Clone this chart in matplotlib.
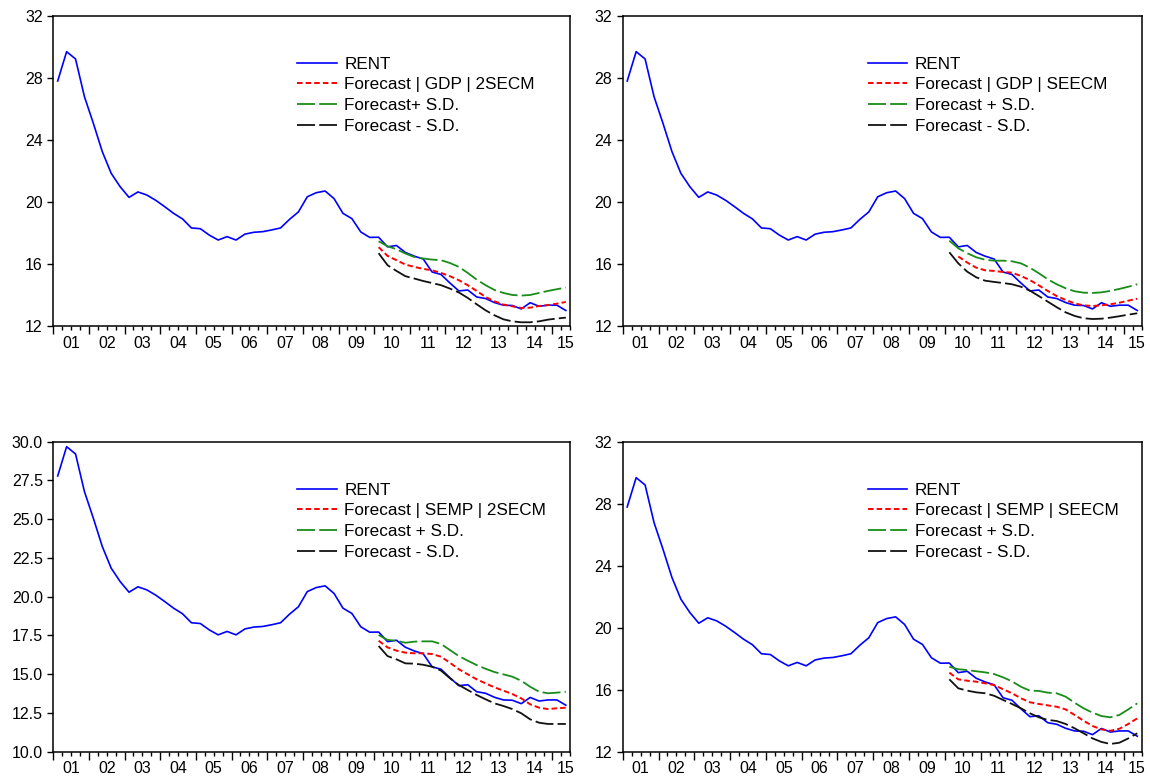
import numpy as np
import matplotlib
matplotlib.use("Agg")
import matplotlib.pyplot as plt

plt.rcParams['font.family'] = ['Liberation Sans', 'DejaVu Sans']
plt.rcParams['lines.scale_dashes'] = False

# quarterly data, 2001Q1 .. 2015Q2
start_year = 2001
rent = [27.79, 29.68, 29.21, 26.78, 25.06, 23.24, 21.84, 20.98,
        20.29, 20.64, 20.44, 20.10, 19.69, 19.26, 18.90, 18.32,
        18.27, 17.86, 17.54, 17.76, 17.54, 17.92, 18.04, 18.08,
        18.19, 18.32, 18.87, 19.35, 20.33, 20.59, 20.70, 20.21,
        19.26, 18.92, 18.06, 17.71, 17.72, 17.10, 17.19, 16.74,
        16.50, 16.32, 15.48, 15.32, 14.77, 14.26, 14.32, 13.87,
        13.77, 13.51, 13.34, 13.32, 13.10, 13.50, 13.27, 13.34,
        13.34, 13.00]

# forecasts from 2010Q1 .. 2015Q2
fc_start = 36

gdp_2secm = [17.08, 16.52, 16.24, 15.96, 15.81, 15.68, 15.59, 15.42, 15.21, 14.95, 14.63,
             14.26, 13.87, 13.59, 13.38, 13.27, 13.16, 13.18, 13.29, 13.35, 13.44, 13.55]
gdp_2secm_up = [17.46, 17.14, 16.95, 16.67, 16.45, 16.35, 16.28, 16.24, 16.06, 15.81, 15.42,
                14.99, 14.63, 14.32, 14.13, 14.00, 13.96, 14.00, 14.13, 14.26, 14.37, 14.48]
gdp_2secm_dn = [16.69, 15.92, 15.55, 15.21, 15.06, 14.90, 14.77, 14.63, 14.41, 14.16, 13.81,
                13.40, 13.01, 12.69, 12.43, 12.30, 12.24, 12.24, 12.30, 12.41, 12.48, 12.54]

gdp_seecm = [np.nan, 16.48, 16.09, 15.76, 15.59, 15.55, 15.48, 15.44, 15.22, 14.96, 14.62,
             14.26, 13.93, 13.68, 13.46, 13.33, 13.29, 13.33, 13.40, 13.50, 13.63, 13.76]
gdp_seecm_up = [17.50, 17.01, 16.69, 16.43, 16.27, 16.21, 16.21, 16.17, 16.04, 15.76, 15.40,
                15.01, 14.69, 14.43, 14.24, 14.15, 14.13, 14.17, 14.26, 14.39, 14.53, 14.69]
gdp_seecm_dn = [16.75, 16.04, 15.50, 15.14, 14.92, 14.84, 14.77, 14.69, 14.53, 14.28, 13.93,
                13.57, 13.21, 12.88, 12.65, 12.50, 12.45, 12.47, 12.54, 12.63, 12.73, 12.82]

semp_2secm = [17.16, 16.73, 16.52, 16.39, 16.35, 16.35, 16.30, 16.13, 15.74, 15.32, 14.99,
              14.67, 14.41, 14.15, 13.94, 13.72, 13.44, 13.06, 12.84, 12.75, 12.80, 12.84]
semp_2secm_up = [17.53, 17.21, 17.16, 17.03, 17.10, 17.12, 17.12, 16.95, 16.56, 16.17, 15.87,
                 15.59, 15.35, 15.14, 14.99, 14.84, 14.58, 14.19, 13.87, 13.77, 13.81, 13.87]
semp_2secm_dn = [16.82, 16.17, 15.96, 15.70, 15.68, 15.61, 15.48, 15.23, 14.74, 14.30, 13.98,
                 13.66, 13.38, 13.12, 12.95, 12.75, 12.48, 12.09, 11.87, 11.79, 11.79, 11.79]

semp_seecm = [17.10, 16.67, 16.58, 16.52, 16.41, 16.30, 16.03, 15.77, 15.45, 15.19, 15.08,
              14.99, 14.90, 14.73, 14.37, 14.00, 13.66, 13.44, 13.35, 13.48, 13.79, 14.15]
semp_seecm_up = [17.48, 17.32, 17.27, 17.19, 17.12, 17.01, 16.80, 16.54, 16.19, 15.94, 15.92,
                 15.81, 15.77, 15.55, 15.16, 14.80, 14.52, 14.30, 14.22, 14.37, 14.73, 15.12]
semp_seecm_dn = [16.67, 16.09, 15.94, 15.83, 15.77, 15.61, 15.34, 15.08, 14.80, 14.48, 14.22,
                 14.05, 13.98, 13.79, 13.51, 13.19, 12.86, 12.63, 12.50, 12.58, 12.86, 13.19]

year_labels = ['01', '02', '03', '04', '05', '06', '07', '08', '09', '10', '11', '12', '13', '14', '15']

panels = [
    ('Forecast | GDP | 2SECM', 'Forecast+ S.D.', gdp_2secm, gdp_2secm_up, gdp_2secm_dn,
     np.arange(12, 33, 4), '%d'),
    ('Forecast | GDP | SEECM', 'Forecast + S.D.', gdp_seecm, gdp_seecm_up, gdp_seecm_dn,
     np.arange(12, 33, 4), '%d'),
    ('Forecast | SEMP | 2SECM', 'Forecast + S.D.', semp_2secm, semp_2secm_up, semp_2secm_dn,
     np.arange(10, 30.1, 2.5), '%.1f'),
    ('Forecast | SEMP | SEECM', 'Forecast + S.D.', semp_seecm, semp_seecm_up, semp_seecm_dn,
     np.arange(12, 33, 4), '%d'),
]

boxes = [[0.0463, 0.5799, 0.4496, 0.3999],
         [0.5415, 0.5799, 0.4513, 0.3999],
         [0.0463, 0.0313, 0.4496, 0.3995],
         [0.5415, 0.0313, 0.4513, 0.3995]]

t = start_year + (np.arange(len(rent)) + 0.5) / 4
tf = t[fc_start:]
end = start_year + len(rent) / 4

fig = plt.figure(figsize=(11.5, 7.76), dpi=100)

for box, (lab_f, lab_up, fc, up, dn, yt, fmt) in zip(boxes, panels):
    ax = fig.add_axes(box)
    ax.plot(t, rent, color='#0000ff', lw=1.2, label='RENT')
    ax.plot(tf, fc, color='#ff0000', lw=1.4, dashes=(4, 2.2), label=lab_f)
    ax.plot(tf, up, color='#1a8c1a', lw=1.3, dashes=(13, 3), label=lab_up)
    ax.plot(tf, dn, color='#111111', lw=1.3, dashes=(13, 3), label='Forecast - S.D.')

    ax.set_xlim(start_year, end)
    ax.set_ylim(yt[0], yt[-1])
    ax.set_yticks(yt)
    ax.yaxis.set_major_formatter(plt.FormatStrFormatter(fmt))
    ax.tick_params(axis='y', direction='out', length=4.5, width=1, pad=3, labelsize=11.5)

    years = np.arange(start_year, int(end) + 1)
    ax.set_xticks(years)
    ax.set_xticklabels([])
    ax.set_xticks(np.arange(start_year, end + 0.01, 0.25), minor=True)
    ax.tick_params(axis='x', which='major', direction='out', length=5.5, width=1)
    ax.tick_params(axis='x', which='minor', direction='out', length=3, width=1)

    sec = ax.secondary_xaxis('bottom')
    pos = list(years[:-1] + 0.5) + [end - 0.13]
    sec.set_xticks(pos)
    sec.set_xticklabels(year_labels)
    sec.tick_params(length=0, pad=7, labelsize=11.5)
    sec.spines['bottom'].set_visible(False)

    for s in ax.spines.values():
        s.set_linewidth(1.1)

    ax.legend(loc='upper left', bbox_to_anchor=(0.472, 0.868), frameon=False,
              fontsize=12.3, handlelength=2.3, handletextpad=0.45, labelspacing=0.33,
              borderpad=0, borderaxespad=0)

fig.savefig('out.png', dpi=100)
